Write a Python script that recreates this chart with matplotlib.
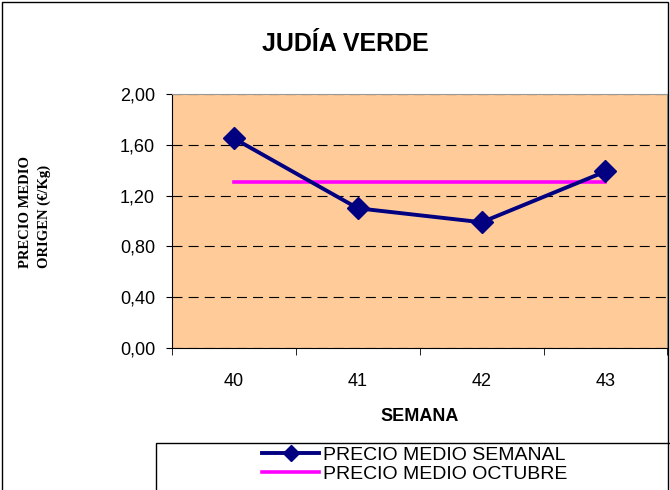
import matplotlib
matplotlib.use("Agg")
import matplotlib.pyplot as plt
from matplotlib.patches import Rectangle
from matplotlib.ticker import FuncFormatter, FixedLocator

# data
semanas = ["40", "41", "42", "43"]
precio_semanal = [1.65, 1.10, 0.99, 1.39]
precio_octubre = [1.31, 1.31, 1.31, 1.31]

plt.rcParams['font.family'] = ['Liberation Sans', 'DejaVu Sans']

fig = plt.figure(figsize=(6.7, 4.9), dpi=100)
ax = fig.add_axes([0.257, 0.290, 0.739, 0.518])
ax.set_facecolor("#FFCC99")

x = list(range(len(semanas)))
ax.plot(x, precio_semanal, color="#000080", lw=2.8, marker="D", ms=11.5,
        label="PRECIO MEDIO SEMANAL", zorder=4)
ax.plot(x, precio_octubre, color="#FF00FF", lw=2.6,
        label="PRECIO MEDIO OCTUBRE", zorder=3)

ax.set_xlim(-0.5, len(semanas) - 0.5)
ax.set_ylim(0, 2.0)
ax.set_yticks([0, 0.4, 0.8, 1.2, 1.6, 2.0])
ax.yaxis.set_major_formatter(FuncFormatter(lambda v, p: f"{v:.2f}".replace(".", ",")))
ax.yaxis.grid(True, linestyle=(0, (9, 5.5)), color="black", lw=0.8, zorder=1)

ax.set_xticks(x)
ax.set_xticklabels(semanas)
ax.xaxis.set_minor_locator(FixedLocator([i - 0.5 for i in range(len(semanas) + 1)]))
ax.tick_params(axis="x", which="major", length=0, pad=18, labelsize=13)
ax.tick_params(axis="x", which="minor", length=5, direction="out")
ax.tick_params(axis="y", length=4.3, direction="out", labelsize=13, pad=8)

for s in ["top", "right"]:
    ax.spines[s].set_color("#999999")
for s in ["left", "bottom"]:
    ax.spines[s].set_color("black")

ax.set_xlabel("SEMANA", fontsize=13, fontweight="bold", labelpad=13)

fig.text(0.515, 0.91, "JUDÍA VERDE", ha="center", va="center",
         fontsize=18, fontweight="bold")
fig.text(0.052, 0.453, "PRECIO MEDIO\nORIGEN (€/Kg)", rotation=90,
         ha="center", va="bottom", multialignment="left", fontsize=10.5,
         fontweight="bold", family=["Liberation Serif", "DejaVu Serif"],
         linespacing=1.6)

# legend box, running off the right and bottom edges as in the reference
fig.patches.append(Rectangle((0.233, -0.1), 0.8, 0.196, transform=fig.transFigure,
                             fill=False, edgecolor="black", lw=1.0))
leg = fig.legend(loc="upper center", bbox_to_anchor=(0.619, 0.090),
                 frameon=False, fontsize=14, handlelength=2.9, markerscale=0.75,
                 borderpad=0.0, labelspacing=0.1, handletextpad=0.2,
                 borderaxespad=0)

# outer chart border
fig.patches.append(Rectangle((0.003, -0.1), 0.994, 1.096, transform=fig.transFigure,
                             fill=False, edgecolor="black", lw=1.0))

fig.savefig("out.png", dpi=100)
